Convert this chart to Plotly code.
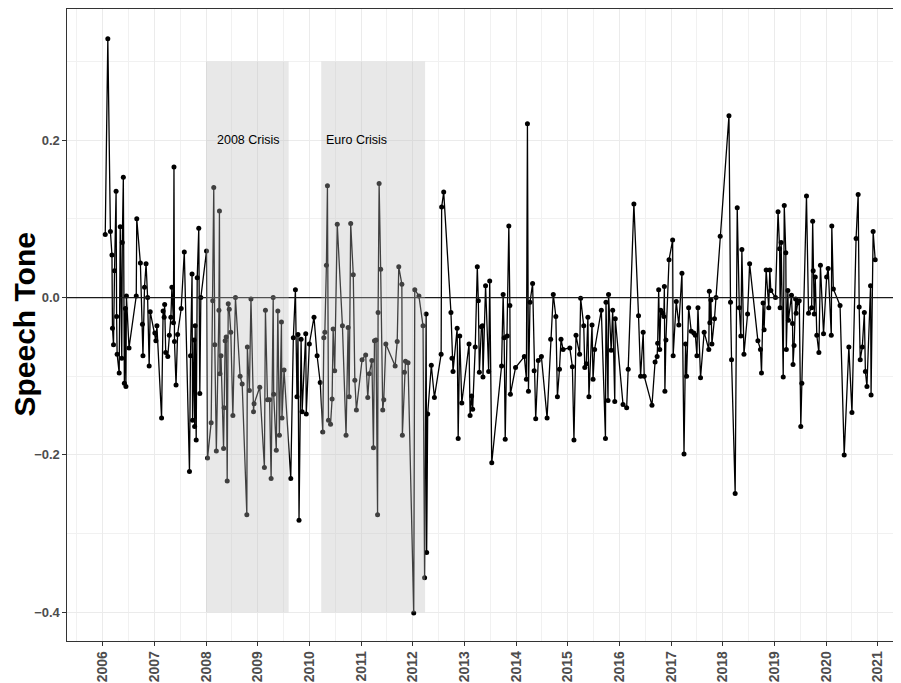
import plotly.graph_objects as go

# ---------------- data ----------------
years = [
    2006.05, 2006.10, 2006.15, 2006.18, 2006.19, 2006.21, 2006.23, 2006.26, 2006.27, 2006.28,
    2006.32, 2006.34, 2006.37, 2006.38, 2006.40, 2006.42, 2006.44, 2006.45, 2006.46, 2006.51,
    2006.65, 2006.66, 2006.73, 2006.77, 2006.78, 2006.81, 2006.84, 2006.87, 2006.90, 2006.92,
    2007.01, 2007.03, 2007.05, 2007.14, 2007.17, 2007.19, 2007.20, 2007.22, 2007.26, 2007.29,
    2007.32, 2007.34, 2007.37, 2007.38, 2007.39, 2007.42, 2007.45, 2007.52, 2007.58, 2007.68,
    2007.70, 2007.73, 2007.74, 2007.77, 2007.78, 2007.79, 2007.81, 2007.83, 2007.86, 2007.88,
    2007.90, 2008.01, 2008.03, 2008.10, 2008.13, 2008.15, 2008.17, 2008.20, 2008.25, 2008.26,
    2008.27, 2008.29, 2008.34, 2008.35, 2008.37, 2008.39, 2008.41, 2008.43, 2008.45,
    2008.48, 2008.52, 2008.57, 2008.66, 2008.70, 2008.79, 2008.80, 2008.84, 2008.87, 2008.92,
    2008.93, 2009.04, 2009.13, 2009.15, 2009.19, 2009.23, 2009.26, 2009.30, 2009.31, 2009.36,
    2009.39, 2009.42, 2009.46, 2009.47, 2009.51, 2009.64, 2009.69, 2009.73, 2009.76, 2009.78,
    2009.80, 2009.84, 2009.86, 2009.93, 2009.94, 2010.00, 2010.09, 2010.15, 2010.21, 2010.26,
    2010.28, 2010.30, 2010.33, 2010.35, 2010.37, 2010.41, 2010.44, 2010.46, 2010.49, 2010.54,
    2010.64, 2010.71, 2010.75, 2010.77, 2010.80, 2010.85, 2010.88, 2010.91,
    2011.02, 2011.09, 2011.13, 2011.16, 2011.21, 2011.24, 2011.26, 2011.29, 2011.32, 2011.33,
    2011.35, 2011.38, 2011.42, 2011.44, 2011.48, 2011.66, 2011.70, 2011.73, 2011.79, 2011.80,
    2011.84, 2011.86, 2011.91, 2012.02, 2012.04, 2012.12, 2012.20, 2012.23, 2012.26, 2012.27,
    2012.29, 2012.36, 2012.42, 2012.55, 2012.56, 2012.60, 2012.74, 2012.76, 2012.78, 2012.86,
    2012.88, 2012.91, 2012.95, 2013.09, 2013.11, 2013.14, 2013.16, 2013.21, 2013.25, 2013.27,
    2013.29, 2013.33, 2013.35, 2013.36, 2013.41, 2013.47, 2013.49,
    2013.53, 2013.72, 2013.75, 2013.77, 2013.79, 2013.83, 2013.86, 2013.88, 2013.89, 2013.99,
    2014.16, 2014.20, 2014.22, 2014.24, 2014.27, 2014.32, 2014.35, 2014.38, 2014.43, 2014.49,
    2014.60, 2014.67, 2014.72, 2014.77, 2014.80, 2014.84, 2014.87, 2014.91, 2015.04, 2015.09,
    2015.12, 2015.16, 2015.23, 2015.25, 2015.31, 2015.33, 2015.36, 2015.39, 2015.41, 2015.47,
    2015.49, 2015.52, 2015.65, 2015.73, 2015.74, 2015.78, 2015.79, 2015.84, 2015.87, 2015.91,
    2015.92,
    2016.07, 2016.14, 2016.17, 2016.28, 2016.37, 2016.41, 2016.46, 2016.48, 2016.63, 2016.69,
    2016.73, 2016.74, 2016.76, 2016.78, 2016.80, 2016.84, 2016.86, 2016.87, 2016.88, 2016.90,
    2016.96, 2017.03, 2017.04, 2017.10, 2017.15, 2017.21, 2017.25, 2017.28, 2017.30, 2017.34,
    2017.39, 2017.44, 2017.47, 2017.50, 2017.52, 2017.57, 2017.64, 2017.73, 2017.74, 2017.75,
    2017.77, 2017.79, 2017.84, 2017.87, 2017.95, 2018.12, 2018.15, 2018.17, 2018.24, 2018.28,
    2018.32, 2018.35, 2018.37, 2018.41, 2018.48, 2018.52,
    2018.68, 2018.73, 2018.75, 2018.78, 2018.80, 2018.84, 2018.89, 2018.91, 2018.93, 2019.02,
    2019.07, 2019.10, 2019.11, 2019.13, 2019.17, 2019.19, 2019.22, 2019.23, 2019.26, 2019.27,
    2019.33, 2019.35, 2019.36, 2019.38, 2019.41, 2019.42, 2019.45, 2019.48, 2019.51, 2019.53,
    2019.62, 2019.66, 2019.72, 2019.74, 2019.75, 2019.77, 2019.79, 2019.82, 2019.86, 2019.89,
    2019.95, 2020.01, 2020.04, 2020.10, 2020.11, 2020.14, 2020.27, 2020.35, 2020.44, 2020.50,
    2020.58, 2020.62, 2020.64, 2020.66, 2020.70, 2020.74, 2020.76, 2020.79, 2020.86, 2020.87,
    2020.91, 2020.95,
]

tone = [
    0.080, 0.329, 0.084, 0.054, -0.039, -0.060, 0.034, 0.135, -0.024, -0.072,
    -0.096, 0.090, -0.077, 0.070, 0.153, -0.109, -0.014, -0.113, 0.002, -0.064,
    0.002, 0.100, 0.044, -0.034, -0.074, 0.013, 0.043, 0.000, -0.087, -0.018,
    -0.045, -0.055, -0.036, -0.153, -0.017, -0.025, -0.009, -0.070, -0.075, -0.048,
    -0.025, 0.013, -0.032, 0.166, -0.056, -0.111, -0.047, -0.014, 0.058, -0.221,
    -0.074, 0.030, -0.156, -0.054, -0.164, -0.036, -0.181, 0.025, 0.088, -0.122,
    0.000, 0.059, -0.204, -0.159, -0.004, 0.140, -0.060, -0.195, -0.016, 0.110,
    -0.097, -0.074, -0.192, -0.140, -0.055, -0.050, -0.233, -0.008, -0.015,
    -0.044, -0.150, 0.000, -0.100, -0.110, -0.276, -0.063, -0.118, -0.002, -0.145,
    -0.135, -0.114, -0.216, -0.016, -0.130, -0.130, -0.230, 0.000, -0.123, -0.194,
    -0.017, -0.175, -0.031, -0.153, -0.092, -0.230, -0.051, 0.010, -0.126, -0.047,
    -0.283, -0.053, -0.145, -0.046, -0.148, -0.059, -0.025, -0.074, -0.108, -0.171,
    -0.051, -0.044, 0.041, 0.142, -0.156, -0.161, -0.129, -0.040, -0.093, 0.093,
    -0.036, -0.175, -0.038, -0.126, 0.094, 0.029, -0.105, -0.143,
    -0.079, -0.073, -0.127, -0.097, -0.080, -0.191, -0.055, -0.054, -0.276, -0.019,
    0.145, 0.036, -0.143, -0.130, -0.059, -0.087, -0.056, 0.039, 0.017, -0.175,
    -0.095, -0.081, -0.083, -0.401, 0.010, 0.002, -0.036, -0.356, -0.021, -0.324,
    -0.148, -0.086, -0.127, -0.072, 0.115, 0.134, -0.019, -0.077, -0.094, -0.039,
    -0.179, -0.049, -0.134, -0.059, -0.150, -0.125, -0.142, -0.063, 0.039, -0.004,
    -0.095, -0.037, -0.036, -0.101, 0.015, -0.094, 0.021,
    -0.210, -0.087, 0.004, -0.051, -0.180, -0.049, 0.091, -0.010, -0.123, -0.089,
    -0.075, -0.104, 0.221, -0.119, -0.006, 0.018, -0.093, -0.154, -0.080, -0.075,
    -0.153, -0.053, 0.004, -0.024, -0.126, -0.091, -0.053, -0.066, -0.064, -0.088,
    -0.181, -0.048, -0.072, -0.001, -0.036, -0.089, -0.084, -0.025, -0.126, -0.035,
    -0.104, -0.066, -0.016, -0.179, -0.006, -0.131, 0.004, -0.067, -0.016, -0.132,
    -0.027,
    -0.136, -0.140, -0.091, 0.119, -0.023, -0.100, -0.044, -0.100, -0.137, -0.082,
    -0.075, -0.058, 0.010, -0.066, -0.016, -0.020, -0.024, 0.014, -0.119, -0.054,
    0.048, 0.073, -0.074, -0.005, -0.035, 0.031, -0.199, -0.059, -0.100, -0.013,
    -0.043, -0.045, -0.048, -0.074, -0.013, -0.102, -0.044, -0.066, 0.008, -0.032,
    -0.003, -0.059, -0.027, 0.000, 0.078, 0.231, -0.006, -0.079, -0.249, 0.114,
    -0.013, -0.049, 0.061, -0.072, -0.021, 0.043,
    -0.055, -0.066, -0.096, -0.007, -0.041, 0.035, -0.013, 0.035, 0.009, 0.000,
    0.109, 0.062, -0.013, 0.070, -0.101, 0.117, 0.057, -0.066, 0.009, -0.029,
    0.003, -0.033, -0.085, -0.061, -0.002, -0.020, -0.007, -0.004, -0.164, -0.109,
    0.129, -0.020, -0.013, 0.097, 0.034, -0.021, 0.026, -0.048, -0.070, 0.041,
    -0.046, 0.026, 0.037, -0.048, 0.091, 0.011, -0.010, -0.200, -0.063, -0.146,
    0.075, 0.131, -0.012, -0.079, -0.063, -0.019, -0.094, -0.113, 0.015, -0.124,
    0.084, 0.048,
]

crisis_names = ["2008 Crisis", "Euro Crisis"]
crisis_start = [2008.0, 2010.23]
crisis_end = [2009.6, 2012.24]
crisis_label_x = [2008.83, 2010.91]
crisis_label_y = 0.2
crisis_ymin, crisis_ymax = -0.4, 0.3

x_tick_vals = list(range(2006, 2022))
x_tick_text = [str(y) for y in x_tick_vals]
y_tick_vals = [-0.4, -0.2, 0.0, 0.2]
y_tick_text = ["\u22120.4", "\u22120.2", "0.0", "0.2"]

# ---------------- figure ----------------
# (the page body adds an 8px offset; margins below compensate for it)
FONT = "Liberation Sans, Arial, Helvetica, sans-serif"
fig = go.Figure()
fig.add_trace(go.Scatter(
    x=years, y=tone, mode="lines+markers",
    line=dict(color="black", width=1.3),
    marker=dict(color="black", size=5),
    showlegend=False, hoverinfo="x+y",
))

shapes = [dict(type="line", xref="paper", x0=0, x1=1, yref="y", y0=0, y1=0,
               line=dict(color="#1a1a1a", width=1.2), layer="above")]
for s, e in zip(crisis_start, crisis_end):
    shapes.append(dict(type="rect", xref="x", yref="y", x0=s, x1=e,
                       y0=crisis_ymin, y1=crisis_ymax,
                       fillcolor="rgba(188,188,188,0.34)", line=dict(width=0),
                       layer="above"))

annotations = []
for name, lx in zip(crisis_names, crisis_label_x):
    annotations.append(dict(x=lx, y=crisis_label_y, xref="x", yref="y", text=name,
                            showarrow=False, font=dict(family=FONT, size=12.5, color="black"),
                            xanchor="center", yanchor="middle"))
annotations.append(dict(text="Speech Tone", xref="paper", yref="paper",
                        x=-0.0516, y=0.5, xanchor="center", yanchor="middle",
                        textangle=-90, showarrow=False,
                        font=dict(family=FONT, size=30, color="black", weight="bold")))

fig.update_layout(
    width=901, height=683,
    margin=dict(l=58.5, r=0, t=1, b=50, autoexpand=False),
    plot_bgcolor="white", paper_bgcolor="white",
    shapes=shapes, annotations=annotations,
    font=dict(family=FONT),
    xaxis=dict(
        range=[2005.31, 2021.604], tickvals=x_tick_vals, ticktext=x_tick_text,
        tickangle=-90, tickfont=dict(family=FONT, size=14, color="#4d4d4d", weight="bold"),
        ticks="outside", ticklen=3.5, tickcolor="#333333", tickwidth=1,
        showline=True, linecolor="#333333", linewidth=1.1, mirror=True,
        showgrid=True, gridcolor="#ebebeb", gridwidth=1, zeroline=False,
        automargin=False,
        minor=dict(tick0=2006, dtick=0.5, showgrid=True, gridcolor="#f1f1f1", gridwidth=0.6),
    ),
    yaxis=dict(
        range=[-0.4365, 0.3667], tickvals=y_tick_vals, ticktext=y_tick_text,
        tickfont=dict(family=FONT, size=13, color="#4d4d4d", weight="bold"),
        ticks="outside", ticklen=3.5, tickcolor="#333333", tickwidth=1,
        showline=True, linecolor="#333333", linewidth=1.1, mirror=False,
        showgrid=True, gridcolor="#ebebeb", gridwidth=1, zeroline=False,
        automargin=False,
        minor=dict(tick0=0, dtick=0.1, showgrid=True, gridcolor="#f1f1f1", gridwidth=0.6),
    ),
)

fig.write_html("out.html")
